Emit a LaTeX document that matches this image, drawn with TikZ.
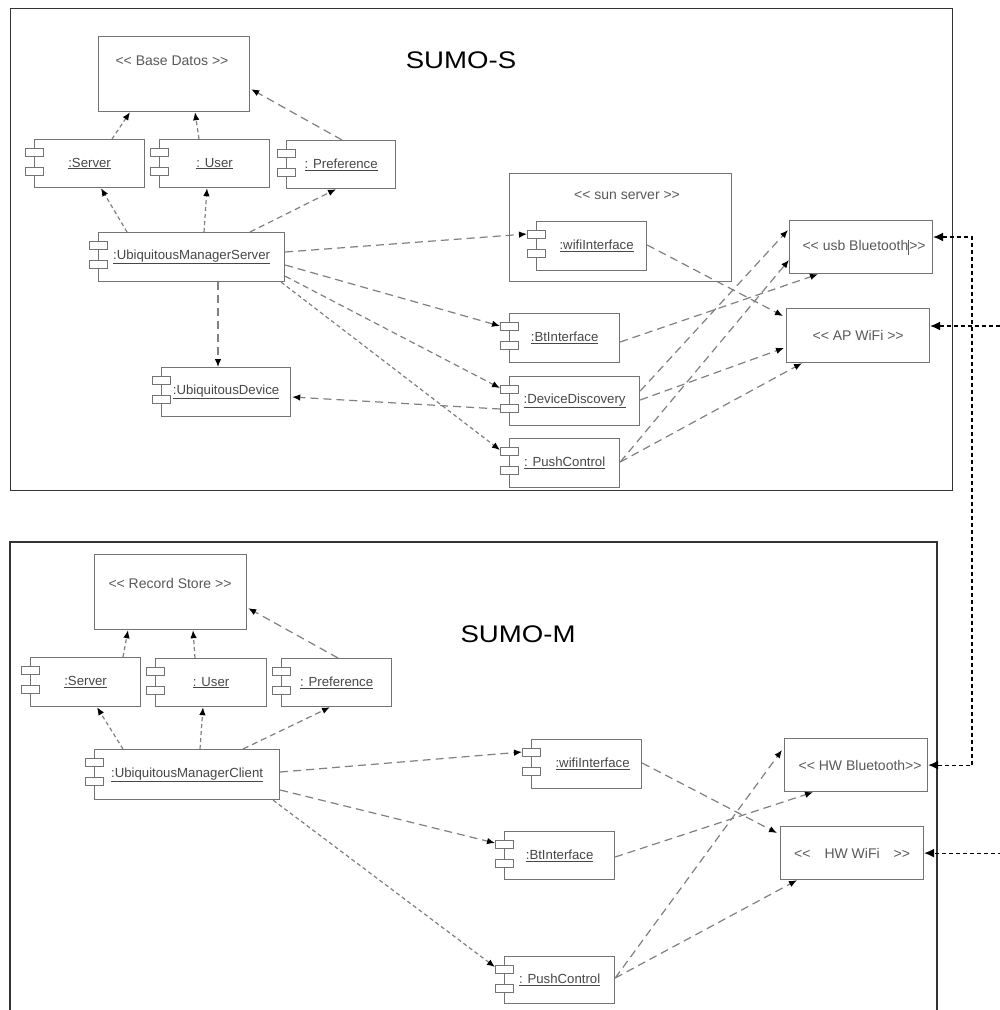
\documentclass[tikz,border=0pt]{standalone}
\usepackage{graphicx}
\usepackage{fontspec}
\setmainfont{Liberation Sans}[Ligatures=TeXOff]
\usetikzlibrary{arrows.meta,calc}

\begin{document}
\begin{tikzpicture}[x=1pt,y=-1pt,
  frame/.style={draw=black!80, line width=1.4pt},
  box/.style={draw=black!55, line width=1.2pt, fill=white, inner sep=0pt,
    anchor=north west, text=black!72, font=\fontsize{13.2}{15}\selectfont},
  stereo/.style={text=black!65, font=\fontsize{14}{16}\selectfont, inner sep=0pt},
  icon/.style={draw=black!55, line width=1pt, fill=white},
  dep/.style={draw=black!50, line width=1.2pt, dash pattern=on 8pt off 5pt,
    -{Latex[length=8pt,width=6.5pt,color=black]}},
  depfine/.style={dep, dash pattern=on 4pt off 3pt},
  ext/.style={draw=black, line width=1.2pt, dash pattern=on 4pt off 3pt,
    {Latex[length=10pt,width=9pt]}-{Latex[length=10pt,width=9pt]}},
  title/.style={font=\fontsize{24}{28}\selectfont, inner sep=0pt}
]
\useasboundingbox (0,0) rectangle (1000,1010);
\fill[white] (0,0) rectangle (1000,1010);

% ---------------- SUMO-S ----------------
\node[frame, anchor=north west, minimum width=942pt, minimum height=482pt, inner sep=0pt] (frameS) at (10,8) {};
\node[title] (titleS) at (461,60) {\scalebox{1.15}[1]{SUMO-S}};

\node[box, minimum width=151pt, minimum height=75pt] (bdS) at (98,36) {};
\node[stereo] (bdSl) at (172,61) {<< Base Datos >>};

\node[box, minimum width=110pt, minimum height=48pt] (srvS) at (34,139) {\underline{:Server}};
\node[box, minimum width=110pt, minimum height=48pt] (usrS) at (159,139) {\underline{: User}};
\node[box, minimum width=109pt, minimum height=48pt] (prfS) at (286,140) {\underline{: Preference}};
\node[box, minimum width=186pt, minimum height=49pt] (umsS) at (98,232) {\underline{:UbiquitousManagerServer}};
\node[box, minimum width=129pt, minimum height=49pt] (udS) at (161,367) {\underline{:UbiquitousDevice}};

\node[box, minimum width=222pt, minimum height=108pt] (sunS) at (509,173) {};
\node[stereo] (sunSl) at (627,195) {<< sun server >>};
\node[box, minimum width=110pt, minimum height=49pt] (wifiS) at (536,221) {\hspace{10pt}\underline{:wifiInterface}};
\node[box, minimum width=110pt, minimum height=49pt] (btS) at (509,313) {\underline{:BtInterface}};
\node[box, minimum width=130pt, minimum height=49pt] (ddS) at (509,376) {\underline{:DeviceDiscovery}};
\node[box, minimum width=110pt, minimum height=49pt] (pushS) at (509,438) {\underline{: PushControl}};

\node[box, minimum width=143pt, minimum height=53pt, text=black!65, font=\fontsize{14}{16}\selectfont] (usbS) at (789,220)
  {\hspace{6pt}<< usb Bluetooth\rule[-4pt]{0.9pt}{15pt}>>};
\node[box, minimum width=143pt, minimum height=54pt, text=black!65, font=\fontsize{14}{16}\selectfont] (apS) at (786,308)
  {<< AP WiFi >>};

% ---------------- SUMO-M ----------------
\draw[frame] (10,1014) |- (937,542) -- (937,1014);
\node[title] (titleM) at (518,634) {\scalebox{1.15}[1]{SUMO-M}};

\node[box, minimum width=152pt, minimum height=75pt] (rsM) at (94,554) {};
\node[stereo] (rsMl) at (170,583) {<< Record Store >>};

\node[box, minimum width=110pt, minimum height=49pt] (srvM) at (30,657) {\underline{:Server}};
\node[box, minimum width=111pt, minimum height=48pt] (usrM) at (155,658) {\underline{: User}};
\node[box, minimum width=110pt, minimum height=48pt] (prfM) at (281,658) {\underline{: Preference}};
\node[box, minimum width=185pt, minimum height=50pt] (umcM) at (94,749) {\underline{:UbiquitousManagerClient}};

\node[box, minimum width=110pt, minimum height=49pt] (wifiM) at (531,739) {\hspace{12pt}\underline{:wifiInterface}};
\node[box, minimum width=110pt, minimum height=48pt] (btM) at (504,831) {\underline{:BtInterface}};
\node[box, minimum width=110pt, minimum height=47pt] (pushM) at (504,956) {\underline{: PushControl}};

\node[box, minimum width=143pt, minimum height=53pt, text=black!65, font=\fontsize{14}{16}\selectfont] (hwbtM) at (784,738)
  {\hspace{8pt}<< HW Bluetooth>>};
\node[box, minimum width=143pt, minimum height=53pt, text=black!65, font=\fontsize{14}{16}\selectfont] (hwwfM) at (780,826)
  {<<\hspace{14pt}HW WiFi\hspace{14pt}>>};

% component icons on the left edge of every component
\foreach \n in {srvS,usrS,prfS,umsS,udS,wifiS,btS,ddS,pushS,srvM,usrM,prfM,umcM,wifiM,btM,pushM} {
  \draw[icon] ($(\n.north west)+(-9,9)$) rectangle ++(18,8);
  \draw[icon] ($(\n.north west)+(-9,28)$) rectangle ++(18,8);
}

% ---------------- dependencies, SUMO-S ----------------
\draw[depfine] ($(srvS.north west)+(78,0)$) -- ($(bdS.south west)+(32,0)$);
\draw[depfine] ($(usrS.north west)+(40,0)$) -- ($(bdS.south west)+(97,0)$);
\draw[dep] ($(prfS.north west)+(56,0)$) -- ($(bdS.south east)+(1,-23)$);
\draw[depfine] ($(umsS.north west)+(29,0)$) -- ($(srvS.south west)+(67,0)$);
\draw[depfine] ($(umsS.north west)+(106,0)$) -- ($(usrS.south west)+(48,0)$);
\draw[dep, dash pattern=on 6pt off 4pt] ($(umsS.north west)+(152,0)$) -- ($(prfS.south west)+(50,0)$);

\draw[dep] ($(umsS.north east)+(0,20)$) -- ($(wifiS.north west)+(-9,13)$);
\draw[dep] ($(umsS.north east)+(0,33)$) -- ($(btS.north west)+(-9,13)$);
\draw[dep, dash pattern=on 6pt off 4pt] ($(umsS.south east)+(0,-6)$) -- ($(ddS.north west)+(-9,12)$);
\draw[depfine] ($(umsS.south east)+(-4,0)$) -- ($(pushS.north west)+(-9,12)$);
\draw[dep] ($(umsS.south west)+(120,0)$) -- ($(udS.north west)+(57,0)$);
\draw[dep] ($(ddS.north west)+(-9,33)$) -- ($(udS.north east)+(1,30)$);

\draw[dep] ($(wifiS.north east)+(0,24)$) -- ($(apS.north west)+(-3,8)$);
\draw[dep] ($(btS.north east)+(0,29)$) -- ($(usbS.south west)+(29,0)$);
\draw[dep] ($(ddS.north east)+(0,15)$) -- ($(usbS.north west)+(-1,10)$);
\draw[dep] ($(ddS.north east)+(0,24)$) -- ($(apS.north west)+(-2,40)$);
\draw[dep] ($(pushS.north east)+(0,24)$) -- ($(usbS.north west)+(0,40)$);
\draw[dep] ($(pushS.north east)+(0,24)$) -- ($(apS.south west)+(16,0)$);

% ---------------- dependencies, SUMO-M ----------------
\draw[depfine] ($(srvM.north west)+(93,0)$) -- ($(rsM.south west)+(34,0)$);
\draw[depfine] ($(usrM.north west)+(40,0)$) -- ($(rsM.south west)+(99,0)$);
\draw[dep] ($(prfM.north west)+(57,0)$) -- ($(rsM.south east)+(1,-22)$);
\draw[depfine] ($(umcM.north west)+(29,0)$) -- ($(srvM.south west)+(67,0)$);
\draw[depfine] ($(umcM.north west)+(106,0)$) -- ($(usrM.south west)+(48,0)$);
\draw[dep, dash pattern=on 6pt off 4pt] ($(umcM.north west)+(149,0)$) -- ($(prfM.south west)+(49,0)$);

\draw[dep] ($(umcM.north east)+(0,23)$) -- ($(wifiM.north west)+(-9,13)$);
\draw[dep] ($(umcM.north east)+(0,41)$) -- ($(btM.north west)+(-9,12)$);
\draw[depfine] ($(umcM.south east)+(-7,0)$) -- ($(pushM.north west)+(-9,11)$);

\draw[dep] ($(wifiM.north east)+(0,24)$) -- ($(hwwfM.north west)+(-3,7)$);
\draw[dep] ($(btM.north east)+(0,26)$) -- ($(hwbtM.south west)+(29,0)$);
\draw[dep] ($(pushM.north east)+(0,22)$) -- ($(hwbtM.north west)+(-2,12)$);
\draw[dep] ($(pushM.north east)+(0,22)$) -- ($(hwwfM.south west)+(17,0)$);

% ---------------- links between the two systems ----------------
\coordinate (btBus) at (972,500);
\coordinate (wfBus) at (1001,600);
\draw[ext] ($(usbS.north east)+(0,17)$) -| (btBus) |- (hwbtM.east);
\draw[ext] ($(apS.north east)+(0,18)$) -| (wfBus) |- (hwwfM.east);

\end{tikzpicture}
\end{document}
